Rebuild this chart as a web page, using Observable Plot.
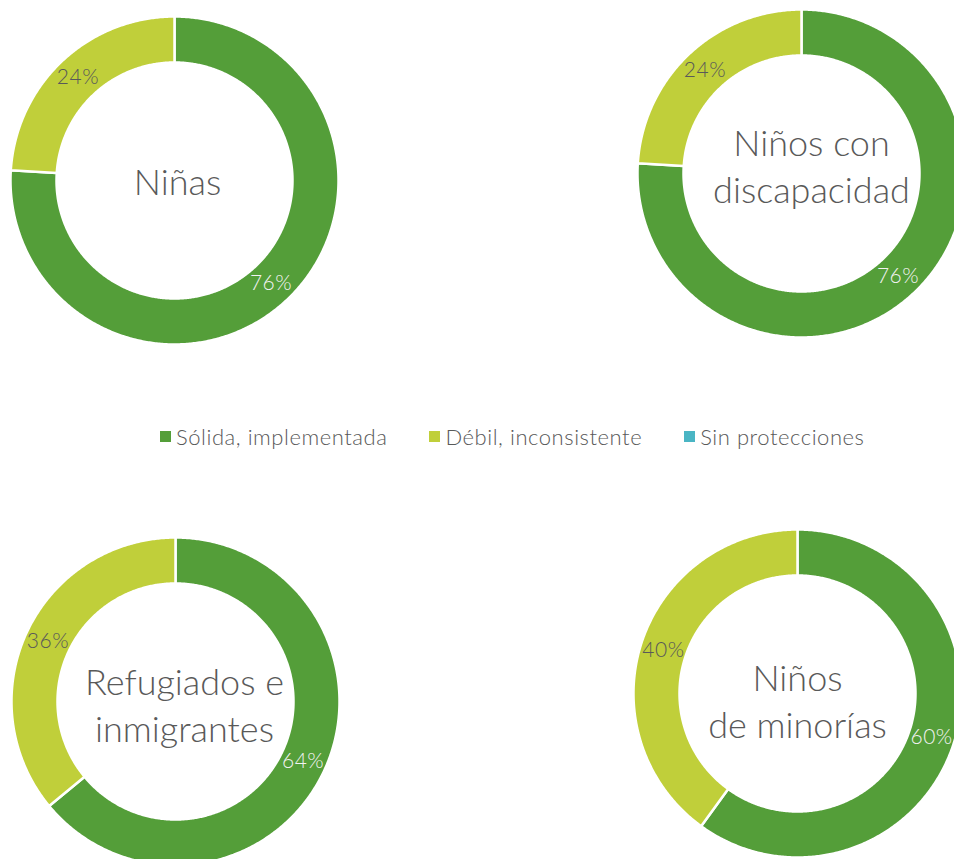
<!DOCTYPE html>
<html>
<head>
<meta charset="utf-8">
<script src="https://cdn.jsdelivr.net/npm/d3@7"></script>
<script src="https://cdn.jsdelivr.net/npm/@observablehq/plot@0.6"></script>
<style>
  html, body { margin: 0; padding: 0; background: #ffffff; overflow: hidden; }
  #wrap { position: relative; width: 954px; height: 859px; overflow: hidden; font-family: Lato, "Open Sans", "Noto Sans", sans-serif; font-weight: 300; }
  .donut { position: absolute; }
  .donut .pct text { letter-spacing: 0.5px; }
  #legend { position: absolute; left: 160px; top: 420px; }
  .lg-swatches { font-family: Lato, "Open Sans", "Noto Sans", sans-serif !important; font-weight: 300; font-size: 22px !important; letter-spacing: 0.55px; color: #595959; }
  .lg-swatch { margin-right: 42px !important; }
  .lg-swatch > svg { margin-right: 5px !important; }
</style>
</head>
<body>
<div id="wrap"><div id="legend"></div></div>
<script>
// ---- data ----
const categories = ["Sólida, implementada", "Débil, inconsistente", "Sin protecciones"];
const colors = ["#549E39", "#C0CF3A", "#4AB5C4"];
const groups = ["Niñas", "Niños con\ndiscapacidad", "Refugiados e\ninmigrantes", "Niños\nde minorías"];
const solida = [76, 76, 64, 60];
const debil = [24, 24, 36, 40];
const sinProteccion = [0, 0, 0, 0];

// ---- layout (donut centres in page pixels, text nudges) ----
const centres = [[174, 180], [801, 173], [175, 701], [797, 693]];
const textDx = [3, 10, 9, 0];
const textDy = [0, -9, 2, 6];
const SIZE = 330, R = 164, r0 = 118;
const labelColors = ["#F2F2F2", "#595959", "#595959"];

const wrap = document.getElementById("wrap");

groups.forEach((g, i) => {
  const rows = categories.map((c, k) => ({cat: c, k, value: [solida[i], debil[i], sinProteccion[i]][k]}));
  const arcs = d3.pie().sort(null).value(d => d.value)(rows);
  const pts = [];
  const labels = [];
  arcs.forEach(a => {
    if (a.data.value <= 0) return;
    const n = Math.max(2, Math.ceil((a.endAngle - a.startAngle) / (Math.PI / 360)));
    const ring = [];
    for (let j = 0; j <= n; j++) {
      const t = a.startAngle + (a.endAngle - a.startAngle) * j / n;
      ring.push({cat: a.data.cat, x: R * Math.sin(t), y: R * Math.cos(t)});
    }
    for (let j = n; j >= 0; j--) {
      const t = a.startAngle + (a.endAngle - a.startAngle) * j / n;
      ring.push({cat: a.data.cat, x: r0 * Math.sin(t), y: r0 * Math.cos(t)});
    }
    ring.push({...ring[0]});
    pts.push(...ring);
    const m = (a.startAngle + a.endAngle) / 2, rm = (R + r0) / 2;
    labels.push({x: rm * Math.sin(m), y: rm * Math.cos(m), text: a.data.value + "%", k: a.data.k});
  });

  const chart = Plot.plot({
    width: SIZE, height: SIZE, margin: 0,
    x: {domain: [-SIZE / 2, SIZE / 2], axis: null},
    y: {domain: [-SIZE / 2, SIZE / 2], axis: null},
    color: {domain: categories, range: colors},
    style: {background: "transparent", overflow: "visible", fontFamily: "Lato, 'Open Sans', 'Noto Sans', sans-serif"},
    marks: [
      Plot.line(pts, {x: "x", y: "y", z: "cat", fill: "cat", stroke: "white", strokeWidth: 2.5, curve: "linear"}),
      Plot.text(labels, {x: "x", y: "y", text: "text", fill: d => labelColors[d.k], fontSize: 21, fontWeight: 300, className: "pct"}),
      Plot.text([g], {frameAnchor: "middle", text: d => d, dx: textDx[i], dy: textDy[i], fontSize: 36, fontWeight: 300, fill: "#595959", lineHeight: 1.3})
    ]
  });
  chart.classList.add("donut");
  chart.style.left = (centres[i][0] - SIZE / 2) + "px";
  chart.style.top = (centres[i][1] - SIZE / 2) + "px";
  wrap.appendChild(chart);
});

const legend = Plot.legend({
  color: {domain: categories, range: colors},
  legend: "swatches",
  swatchSize: 11,
  className: "lg"
});
document.getElementById("legend").appendChild(legend);
</script>
</body>
</html>
